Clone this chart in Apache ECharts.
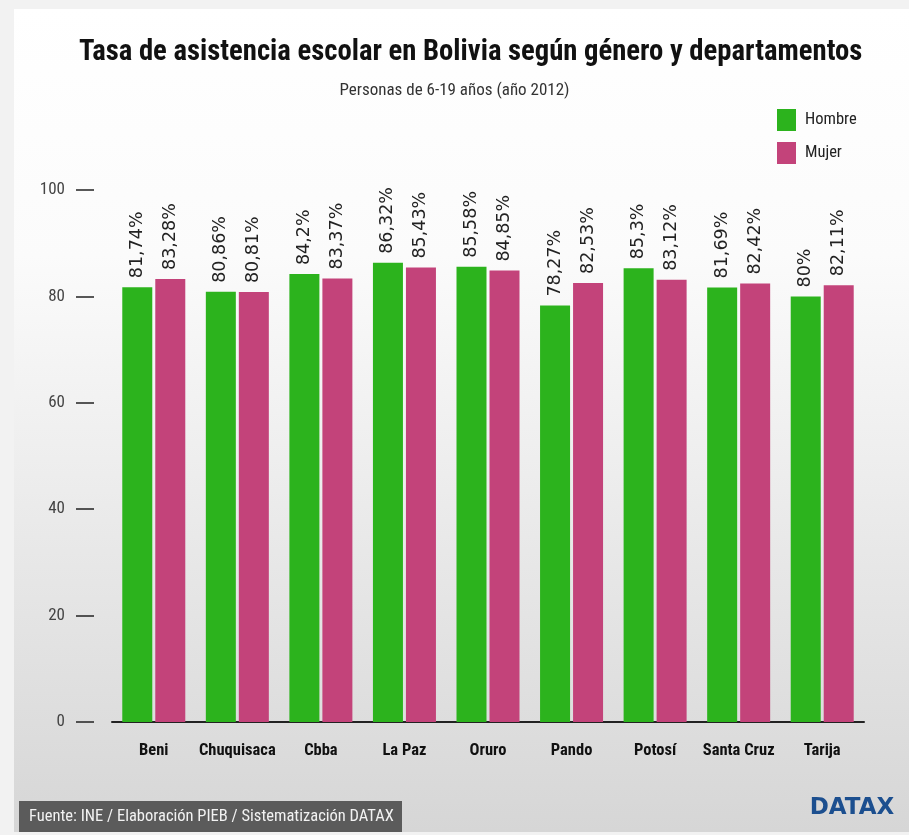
<!DOCTYPE html>
<html>
<head>
<meta charset="utf-8">
<title>Tasa de asistencia escolar en Bolivia</title>
<script src="https://cdn.jsdelivr.net/npm/echarts@6/dist/echarts.min.js"></script>
<style>
  html, body { margin: 0; padding: 0; background: #f2f2f2; }
  #chart { width: 909px; height: 835px; }
</style>
</head>
<body>
<div id="chart"></div>
<script>
// Departamentos y tasas de asistencia (%)
const departamentos = ['Beni', 'Chuquisaca', 'Cbba', 'La Paz', 'Oruro', 'Pando', 'Potosí', 'Santa Cruz', 'Tarija'];
const hombre = [81.74, 80.86, 84.2, 86.32, 85.58, 78.27, 85.3, 81.69, 80];
const mujer = [83.28, 80.81, 83.37, 85.43, 84.85, 82.53, 83.12, 82.42, 82.11];
const ejeY = { min: 0, max: 100, interval: 20 };

const NARROW = '"Roboto Condensed", "Open Sans Condensed", "Liberation Sans", sans-serif';
const GREEN = '#2cb31d';
const PINK = '#c3437a';

function etiqueta(p) {
  return String(p.value).replace('.', ',') + '%';
}

const labelStyle = {
  show: true,
  position: 'top',
  distance: 9,
  rotate: 90,
  align: 'left',
  verticalAlign: 'middle',
  formatter: etiqueta,
  fontFamily: '"DejaVu Sans", sans-serif',
  fontSize: 17.5,
  color: '#222'
};

const chart = echarts.init(document.getElementById('chart'), null, { renderer: 'canvas' });
chart.setOption({
  backgroundColor: '#f2f2f2',
  animation: false,
  graphic: [
    {
      type: 'rect', z: -10, silent: true,
      shape: { x: 14, y: 9, width: 895, height: 823 },
      style: {
        fill: new echarts.graphic.LinearGradient(0, 0, 0, 1, [
          { offset: 0, color: '#ffffff' },
          { offset: 0.3, color: '#fbfbfb' },
          { offset: 1, color: '#d6d6d6' }
        ])
      }
    },
    {
      type: 'rect', z: 5, silent: true,
      shape: { x: 19, y: 801, width: 383, height: 31 },
      style: { fill: '#5b5b5b' }
    },
    {
      type: 'text', z: 6, silent: true,
      x: 29, y: 817,
      style: {
        text: 'Fuente: INE / Elaboración PIEB / Sistematización DATAX',
        fill: '#f2f2f2',
        font: '16.5px ' + NARROW,
        verticalAlign: 'middle'
      }
    },
    {
      type: 'text', z: 6, silent: true,
      x: 852, y: 808,
      style: {
        text: 'DATAX',
        fill: '#1c4f8f',
        font: 'bold 23px "DejaVu Sans", sans-serif',
        align: 'center',
        verticalAlign: 'middle'
      }
    }
  ],
  title: [
    {
      text: 'Tasa de asistencia escolar en Bolivia según género y departamentos',
      left: 74,
      top: 33,
      textStyle: { fontFamily: NARROW, fontWeight: 'bold', fontSize: 28.7, color: '#111' }
    },
    {
      text: 'Personas de 6-19 años (año 2012)',
      left: 'center',
      top: 77,
      textStyle: { fontFamily: NARROW, fontWeight: 'normal', fontSize: 17, color: '#333' }
    }
  ],
  legend: {
    orient: 'vertical',
    left: 772,
    top: 104,
    itemWidth: 19,
    itemHeight: 22,
    itemGap: 11,
    icon: 'rect',
    textStyle: { fontFamily: NARROW, fontSize: 16.5, color: '#222', padding: [0, 0, 0, 4] },
    data: ['Hombre', 'Mujer']
  },
  grid: { left: 112, right: 45, top: 190, bottom: 113 },
  xAxis: {
    type: 'category',
    data: departamentos,
    axisLine: { show: true, lineStyle: { color: '#222', width: 2 } },
    axisTick: { show: false },
    axisLabel: { margin: 20, fontFamily: NARROW, fontWeight: 'bold', fontSize: 16.5, color: '#111', interval: 0 }
  },
  yAxis: {
    type: 'value',
    min: ejeY.min,
    max: ejeY.max,
    interval: ejeY.interval,
    offset: 18,
    axisLine: { show: false },
    axisTick: { show: true, length: 18, lineStyle: { color: '#222', width: 1.5 } },
    splitLine: { show: false },
    axisLabel: { margin: 29, fontFamily: NARROW, fontSize: 17, color: '#444' }
  },
  series: [
    {
      name: 'Hombre', type: 'bar', data: hombre,
      barWidth: 30, barGap: '10%',
      itemStyle: { color: GREEN },
      label: labelStyle
    },
    {
      name: 'Mujer', type: 'bar', data: mujer,
      barWidth: 30, barGap: '10%',
      itemStyle: { color: PINK },
      label: labelStyle
    }
  ]
});
</script>
</body>
</html>
